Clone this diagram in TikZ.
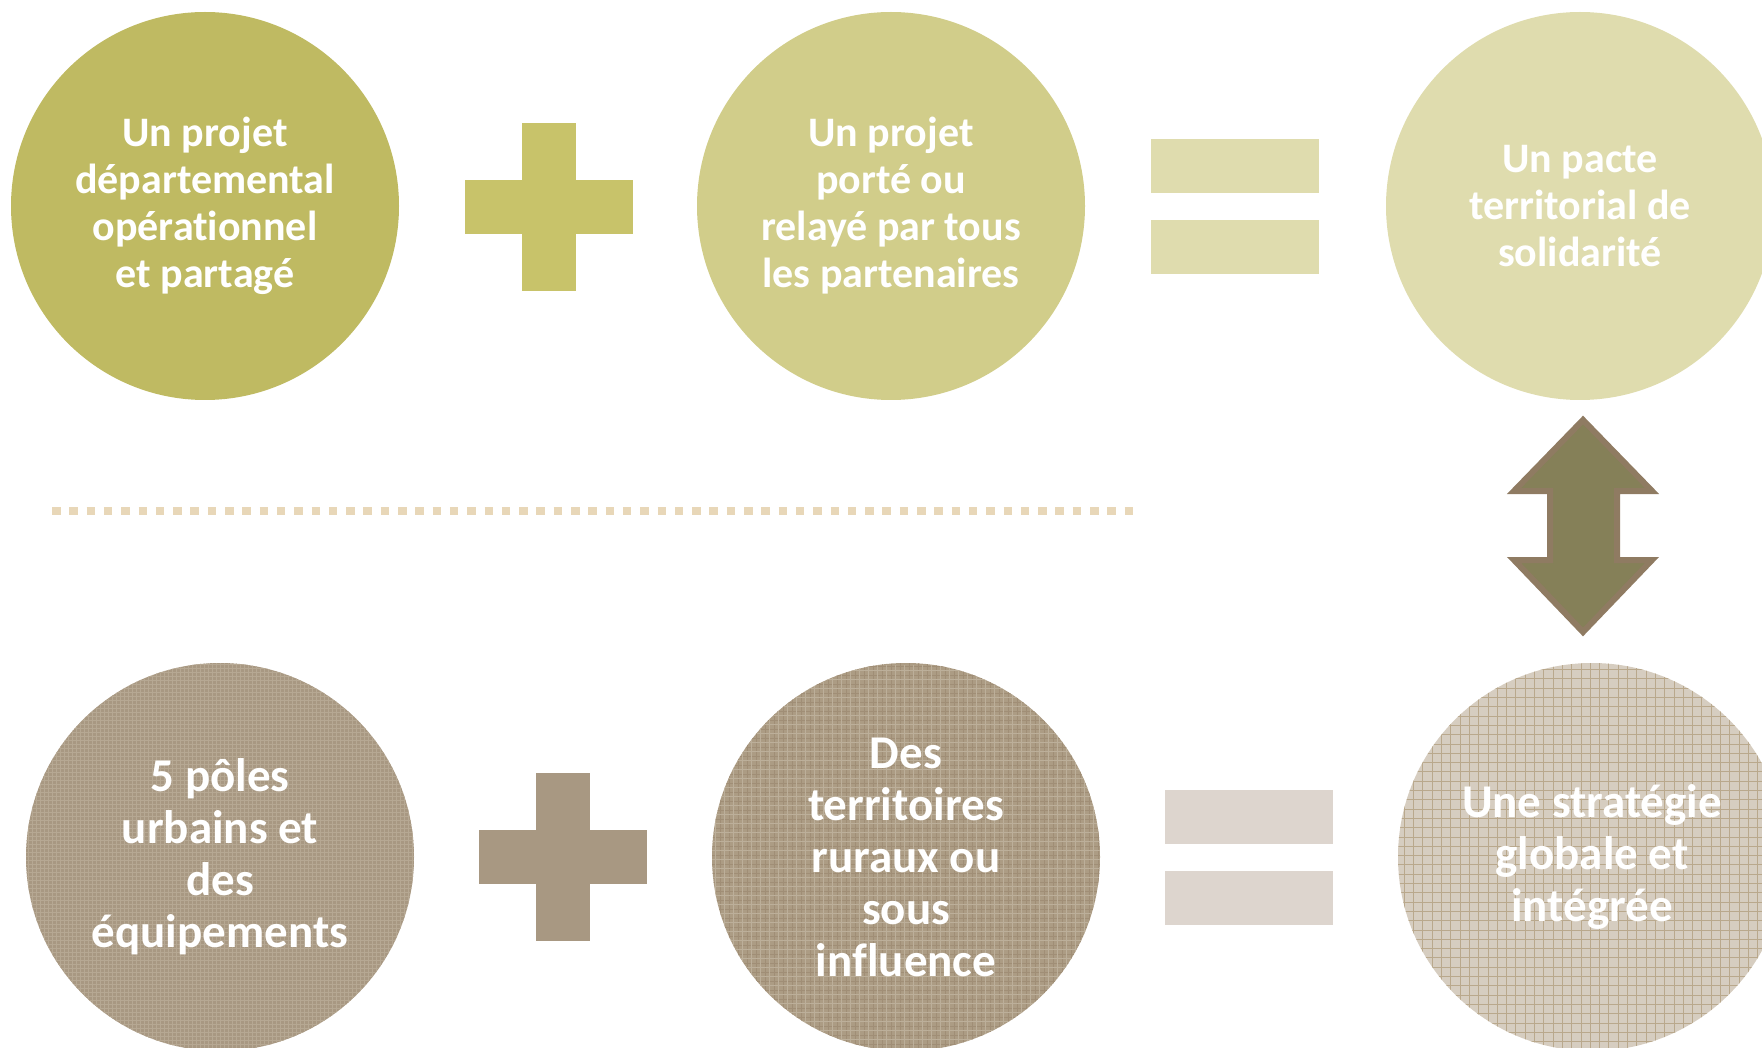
\documentclass[tikz,border=0pt]{standalone}
\usepackage{fontspec}
\setmainfont[Ligatures=NoCommon]{Carlito}
\definecolor{cA}{HTML}{BFBA62}
\definecolor{cPlusA}{HTML}{C8C36A}
\definecolor{cB}{HTML}{D1CD8A}
\definecolor{cEqA}{HTML}{DFDCAE}
\definecolor{cC}{HTML}{DFDCAE}
\definecolor{cD}{HTML}{A89882}
\definecolor{cDl}{HTML}{B6A893}
\definecolor{cPlusB}{HTML}{A89882}
\definecolor{cE}{HTML}{AC9C84}
\definecolor{cEd}{HTML}{A08E76}
\definecolor{cEl}{HTML}{BCAF9A}
\definecolor{cEqB}{HTML}{DDD5CE}
\definecolor{cF}{HTML}{D6CDC0}
\definecolor{cFd}{HTML}{B9A88C}
\definecolor{cArrow}{HTML}{858058}
\definecolor{cArrowB}{HTML}{8F7B62}
\definecolor{cDot}{HTML}{E8D7B8}
\tikzset{
  bubble/.style={circle, minimum size=388pt, inner sep=0pt, text=white,
    align=center, font=\bfseries\fontsize{42}{47}\selectfont},
  bubbleb/.style={bubble, font=\bfseries\fontsize{47}{52}\selectfont},
  bar/.style={inner sep=0pt, outer sep=0pt, minimum width=168pt, minimum height=54pt},
  vbar/.style={inner sep=0pt, outer sep=0pt, minimum width=54pt, minimum height=168pt},
}
\begin{document}
\begin{tikzpicture}[x=1pt,y=-1pt]
\useasboundingbox (0,0) rectangle (1762,1048);
\clip (0,0) rectangle (1762,1048);
% top row
\node[bubble, fill=cA] (c1) at (205,206) {Un projet\\départemental\\opérationnel\\et partagé};
\node[vbar, fill=cPlusA] (p1v) at (549,207) {};
\node[bar, fill=cPlusA] (p1h) at (549,207) {};
\node[bubble, fill=cB] (c2) at (891,206) {Un projet\\porté ou\\relayé par tous\\les partenaires};
\node[bar, fill=cEqA] (e1a) at (1235,166) {};
\node[bar, fill=cEqA] (e1b) at (1235,247) {};
\node[bubble, fill=cC] (c3) at (1580,206) {Un pacte\\territorial de\\solidarité};
% dotted separator
\coordinate (d1) at (52,511);
\coordinate (d2) at (1135,511);
\draw[cDot, line width=8.5pt, dash pattern=on 8.5pt off 8.8pt] (d1) -- (d2);
% double arrow
\draw[cArrowB, line width=6pt, fill=cArrow, line join=miter]
  (1583,420) -- (1652,491) -- (1617,491) -- (1617,560) -- (1652,560) -- (1583,632)
  -- (1514,560) -- (1550,560) -- (1550,491) -- (1514,491) -- cycle;
% bottom row
\fill[cD] (220,857) circle (194);
\begin{scope}
\clip (220,857) circle (194);
\draw[cDl, line width=0.8pt, step=4pt] (20,660) grid (420,1060);
\end{scope}
\node[bubbleb] (c4) at (220,857) {5 pôles\\urbains et\\des\\équipements};
\node[vbar, fill=cPlusB] (p2v) at (563,857) {};
\node[bar, fill=cPlusB] (p2h) at (563,857) {};
\fill[cE] (906,857) circle (194);
\begin{scope}
\clip (906,857) circle (194);
\draw[cEd, line width=0.8pt, step=9pt] (700,660) grid (1110,1060);
\draw[cEl, line width=0.8pt, step=9pt, shift={(4.5,4.5)}] (700,660) grid (1110,1060);
\end{scope}
\node[bubbleb] (c5) at (906,857) {Des\\territoires\\ruraux ou\\sous\\influence};
\node[bar, fill=cEqB] (e2a) at (1249,817) {};
\node[bar, fill=cEqB] (e2b) at (1249,898) {};
\fill[cF] (1592,857) circle (194);
\begin{scope}
\clip (1592,857) circle (194);
\draw[cFd, line width=1pt, step=9.3pt] (1390,660) grid (1800,1060);
\end{scope}
\node[bubbleb] (c6) at (1592,857) {Une stratégie\\globale et\\intégrée};
\end{tikzpicture}
\end{document}
